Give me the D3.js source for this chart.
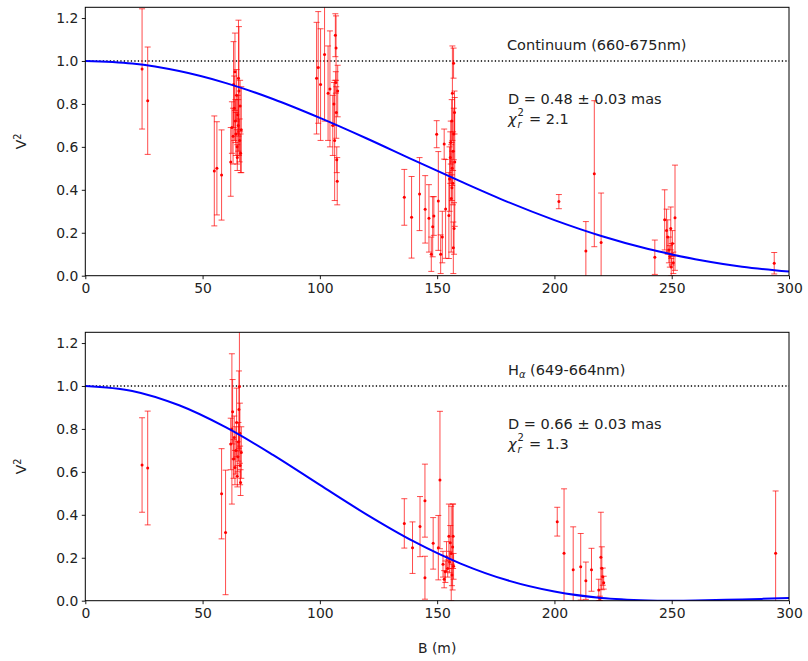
<!DOCTYPE html>
<html>
<head>
<meta charset="utf-8">
<script src="https://cdn.jsdelivr.net/npm/d3@7"></script>
<style>
  html, body { margin: 0; padding: 0; background: #fff; }
  svg { display: block; font-family: "DejaVu Sans", sans-serif; }
</style>
</head>
<body>
<svg id="chart" width="808" height="661"></svg>
<script>
// ---------------- DATA ----------------
// [baseline B (m), V^2, error]
const contPoints = [
  [24.2,0.963,0.28],[26.6,0.815,0.25],
  [55.0,0.488,0.256],[56.1,0.50,0.217],[58.1,0.469,0.21],
  [62.0,0.53,0.16],[62.5,0.69,0.12],[63.0,0.65,0.13],[63.2,0.89,0.20],[63.5,0.78,0.15],
  [63.8,0.95,0.18],[64.0,0.72,0.10],[64.2,0.66,0.10],[64.5,0.84,0.12],[64.7,0.60,0.08],
  [65.0,0.75,0.09],[65.2,0.70,0.12],[65.5,0.86,0.30],[65.8,0.63,0.10],[66.0,0.79,0.12],
  [66.2,0.57,0.09],[66.5,0.68,0.20],[65.3,0.92,0.27],[64.8,0.55,0.06],
  [98.6,0.92,0.26],[99.3,0.97,0.26],[100.3,0.89,0.26],[102.0,1.03,0.31],[103.5,0.85,0.22],
  [104.3,0.87,0.27],[105.5,0.70,0.14],[106.0,0.80,0.10],[106.3,0.63,0.28],[106.6,1.12,0.10],
  [106.9,1.06,0.15],[107.0,0.76,0.12],[107.2,0.54,0.06],[107.4,0.44,0.11],[106.8,0.90,0.05],
  [107.6,0.86,0.12],
  [136.0,0.365,0.13],[139.1,0.272,0.19],[142.5,0.38,0.17],[144.9,0.309,0.157],[146.5,0.267,0.157],
  [148.1,0.228,0.14],[148.6,0.278,0.09],[149.8,0.659,0.063],[150.5,0.348,0.23],[153.0,0.613,0.07],
  [153.6,0.311,0.23],[147.5,0.10,0.08],[151.5,0.10,0.09],[152.2,0.18,0.12],
  [155.0,0.28,0.20],[155.3,0.45,0.15],[155.6,0.55,0.12],[155.8,0.62,0.10],[156.0,0.36,0.25],
  [156.2,0.72,0.10],[156.4,0.50,0.08],[156.5,0.85,0.22],[156.7,0.43,0.10],[156.8,0.58,0.09],
  [157.0,0.99,0.07],[157.1,0.66,0.12],[157.2,0.22,0.12],[157.4,0.76,0.10],[157.5,0.53,0.30],
  [156.9,0.13,0.12],[156.3,0.41,0.06],
  [201.9,0.345,0.033],[213.4,0.115,0.137],[217.0,0.475,0.34],[219.9,0.155,0.23],[242.8,0.086,0.08],
  [247.0,0.26,0.14],[247.8,0.21,0.10],[248.3,0.18,0.08],[248.8,0.12,0.06],[249.2,0.09,0.05],
  [249.6,0.22,0.10],[250.0,0.10,0.05],[250.3,0.15,0.06],[250.7,0.06,0.05],[251.4,0.27,0.245],
  [249.8,0.04,0.04],
  [293.7,0.058,0.05]
];

const haPoints = [
  [24.2,0.632,0.22],[26.6,0.618,0.265],
  [58.1,0.498,0.21],[59.8,0.318,0.29],
  [62.0,0.73,0.12],[62.5,0.80,0.35],[62.8,0.88,0.15],[63.2,0.66,0.09],[63.5,0.76,0.10],
  [63.8,0.62,0.08],[64.2,0.70,0.11],[64.5,0.83,0.16],[64.8,0.58,0.05],[65.0,0.67,0.07],
  [65.3,0.74,0.09],[65.5,0.89,0.18],[65.7,0.997,0.30],[66.0,0.63,0.09],[66.2,0.55,0.06],
  [66.5,0.69,0.12],[65.9,0.78,0.14],
  [136.0,0.36,0.115],[139.5,0.247,0.12],[142.7,0.345,0.14],[144.8,0.466,0.17],[144.8,0.107,0.10],
  [148.3,0.267,0.12],[150.5,0.247,0.15],[151.2,0.562,0.32],
  [152.5,0.17,0.06],[153.0,0.10,0.04],[153.5,0.135,0.05],[154.0,0.205,0.07],[154.5,0.15,0.04],
  [155.0,0.30,0.15],[155.3,0.18,0.05],[155.6,0.27,0.08],[156.0,0.22,0.22],[156.3,0.12,0.05],
  [156.6,0.25,0.20],[157.0,0.16,0.06],[156.8,0.30,0.15],
  [201.2,0.368,0.067],[204.1,0.221,0.30],[208.0,0.144,0.20],[211.2,0.158,0.155],[213.4,0.093,0.087],
  [215.8,0.144,0.10],[218.9,0.05,0.05],[219.8,0.202,0.21],[220.2,0.151,0.10],[220.6,0.112,0.04],
  [221.0,0.084,0.03],[219.4,0.011,0.01],
  [294.3,0.221,0.29]
];

// uniform-disk model curves
const modelB      = [0, 20, 40, 60, 80, 100, 120, 140, 160, 180, 200, 220, 240, 250, 260, 280, 300];
const contModel   = [1, 0.988, 0.953, 0.897, 0.823, 0.735, 0.639, 0.538, 0.439, 0.344, 0.259, 0.185, 0.124, 0.099, 0.077, 0.042, 0.019];
const haModel     = [1, 0.977, 0.910, 0.807, 0.679, 0.539, 0.401, 0.276, 0.173, 0.095, 0.043, 0.013, 0.0013, 0.0, 0.0009, 0.006, 0.0123];

const xTicks = [0, 50, 100, 150, 200, 250, 300];
const yTicks = [0.0, 0.2, 0.4, 0.6, 0.8, 1.0, 1.2];

const panels = [
  { points: contPoints, model: contModel, top: 7.3,
    label: "Continuum (660-675nm)", D: "D = 0.48 ± 0.03 mas", chi: "2.1" },
  { points: haPoints, model: haModel, top: 332.3,
    label: "Hα", D: "D = 0.66 ± 0.03 mas", chi: "1.3" }
];

// ---------------- DRAW ----------------
const svg = d3.select("#chart");
const left = 85.3, right = 789, h = 268.4;
const x = d3.scaleLinear().domain([0, 300]).range([left, right]);
const tickFont = 13.9;
const red = "#ff0000";

panels.forEach((p, i) => {
  const y = d3.scaleLinear().domain([0, 1.25]).range([p.top + h, p.top]);
  const g = svg.append("g");
  const clipId = "clip" + i;
  svg.append("defs").append("clipPath").attr("id", clipId)
    .append("rect").attr("x", left).attr("y", p.top).attr("width", right - left).attr("height", h);

  const plot = g.append("g").attr("clip-path", `url(#${clipId})`);

  // dotted line at V^2=1
  plot.append("line")
    .attr("x1", left).attr("x2", right)
    .attr("y1", y(1)).attr("y2", y(1))
    .attr("stroke", "#000").attr("stroke-width", 1.3)
    .attr("stroke-dasharray", "1.3,2.2");

  // error bars
  const eb = plot.append("g").attr("stroke", red).attr("stroke-opacity", 0.7).attr("stroke-width", 1);
  p.points.forEach(d => {
    const cx = x(d[0]);
    const y1 = y(d[1] + d[2]), y2 = y(d[1] - d[2]);
    eb.append("line").attr("x1", cx).attr("x2", cx).attr("y1", y1).attr("y2", y2);
    eb.append("line").attr("x1", cx - 3).attr("x2", cx + 3).attr("y1", y1).attr("y2", y1);
    eb.append("line").attr("x1", cx - 3).attr("x2", cx + 3).attr("y1", y2).attr("y2", y2);
  });
  plot.append("g").selectAll("circle").data(p.points).join("circle")
    .attr("cx", d => x(d[0])).attr("cy", d => y(d[1]))
    .attr("r", 1.5).attr("fill", red);

  // model curve
  const line = d3.line().x((d, j) => x(modelB[j])).y(d => y(d)).curve(d3.curveCatmullRom);
  plot.append("path").datum(p.model).attr("d", line)
    .attr("fill", "none").attr("stroke", "#0000ff").attr("stroke-width", 2);

  // axes
  const xAxis = d3.axisBottom(x).tickValues(xTicks).tickFormat(d3.format("d")).tickSize(3.5).tickPadding(3.5);
  const yAxis = d3.axisLeft(y).tickValues(yTicks).tickFormat(d3.format(".1f")).tickSize(3.5).tickPadding(3.5);
  const gx = g.append("g").attr("transform", `translate(0,${p.top + h})`).call(xAxis);
  const gy = g.append("g").attr("transform", `translate(${left},0)`).call(yAxis);
  [gx, gy].forEach(a => {
    a.select(".domain").remove();
    a.selectAll("line").attr("stroke", "#000").attr("stroke-width", 0.9);
    a.selectAll("text").attr("font-size", tickFont).attr("fill", "#222")
      .attr("font-family", "DejaVu Sans, sans-serif");
  });

  // frame
  g.append("rect").attr("x", left).attr("y", p.top).attr("width", right - left).attr("height", h)
    .attr("fill", "none").attr("stroke", "#000").attr("stroke-width", 1);

  // y label
  const yl = g.append("text")
    .attr("transform", `translate(26,${p.top + h / 2}) rotate(-90)`)
    .attr("text-anchor", "middle").attr("font-size", tickFont).attr("fill", "#222");
  yl.append("tspan").text("V");
  yl.append("tspan").attr("font-size", 9.7).attr("dy", -5).text("2");

  // annotations
  const ann = g.append("g").attr("font-size", 14.5).attr("fill", "#222");
  const ty = p.top + 43;
  if (i === 0) {
    ann.append("text").attr("x", 507).attr("y", ty).text(p.label);
  } else {
    const t = ann.append("text").attr("x", 508).attr("y", ty);
    t.append("tspan").text("H");
    t.append("tspan").attr("font-size", 10).attr("font-style", "italic").attr("dy", 3).text("α");
    t.append("tspan").attr("dy", -3).text(" (649-664nm)");
  }
  ann.append("text").attr("x", 508).attr("y", p.top + 97).text(p.D);
  const cy = p.top + 117;
  const c = ann.append("text").attr("y", cy);
  c.append("tspan").attr("x", 508).attr("y", cy).attr("font-style", "italic").text("χ");
  c.append("tspan").attr("x", 517.5).attr("y", cy - 8).attr("font-size", 10).text("2");
  c.append("tspan").attr("x", 517.5).attr("y", cy + 4).attr("font-size", 10).attr("font-style", "italic").text("r");
  c.append("tspan").attr("x", 529).attr("y", cy).text("= " + p.chi);
});

// x label
svg.append("text").attr("x", (left + right) / 2).attr("y", 653)
  .attr("text-anchor", "middle").attr("font-size", tickFont).attr("fill", "#222").text("B (m)");
</script>
</body>
</html>
